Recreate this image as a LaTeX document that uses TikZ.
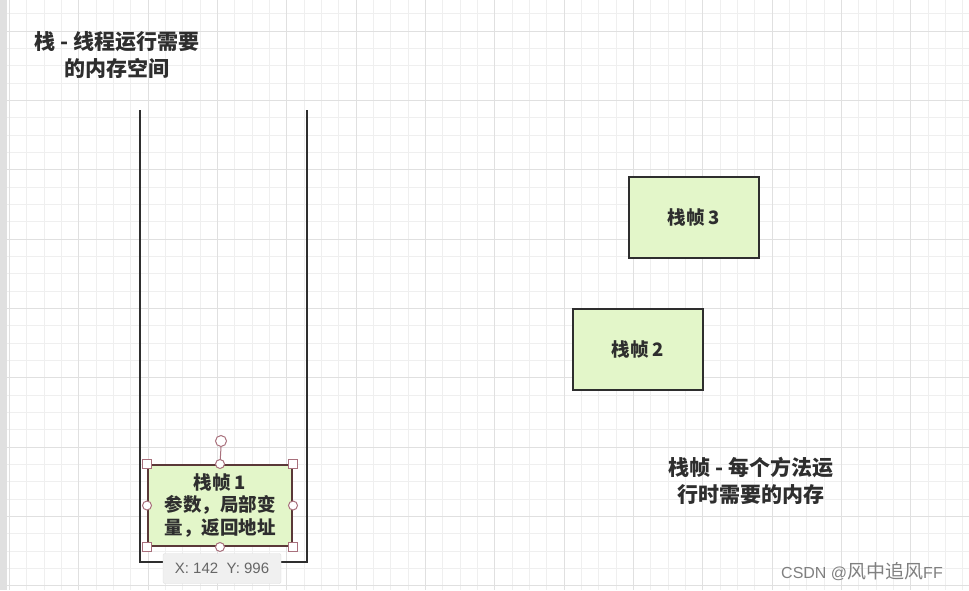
\documentclass[tikz,border=0pt]{standalone}
\usepackage{fontspec}
\newfontfamily\cjk{Noto Sans CJK SC}
\setmainfont{Noto Sans CJK SC}
\setsansfont{Liberation Sans}
\definecolor{gridminor}{HTML}{EFEFEF}
\definecolor{gridmajor}{HTML}{E0E0E0}
\definecolor{ink}{HTML}{2E2E2E}
\definecolor{framefill}{HTML}{E3F6C9}
\definecolor{selborder}{HTML}{5A3838}
\definecolor{handle}{HTML}{A8707C}
\tikzset{
  minorline/.style={gridminor, line width=1pt},
  majorline/.style={gridmajor, line width=1.5pt},
  wall/.style={ink, line width=2pt},
  framebox/.style={draw=ink, fill=framefill, line width=2pt, minimum width=130pt, minimum height=81pt, inner sep=0pt, font=\cjk\bfseries\fontsize{18.5}{22}\selectfont, text=ink},
  titletext/.style={align=center, font=\cjk\bfseries\fontsize{21}{27}\selectfont, text=ink, inner sep=0pt},
  sqhandle/.style={draw=handle, fill=white, line width=1pt, minimum size=9pt, inner sep=0pt, rectangle},
  cihandle/.style={draw=handle, fill=white, line width=1pt, minimum size=9pt, inner sep=0pt, circle},
}
\begin{document}
\begin{tikzpicture}[x=1pt, y=-1pt]
\useasboundingbox (0,0) rectangle (969,590);
\fill[white] (0,0) rectangle (969,590);
% grid
\foreach \i in {0,...,56} {\draw[minorline] ({round(9+\i*17.333)+0.5},0) -- ({round(9+\i*17.333)+0.5},590);}
\foreach \i in {0,...,34} {\draw[minorline] (0,{round(13.3+\i*17.333)+0.5}) -- (969,{round(13.3+\i*17.333)+0.5});}
\foreach \i in {0,...,14} {\draw[majorline] ({round(9+\i*69.333)+0.5},0) -- ({round(9+\i*69.333)+0.5},590);}
\foreach \i in {0,...,8} {\draw[majorline] (0,{round(30.7+\i*69.333)+0.5}) -- (969,{round(30.7+\i*69.333)+0.5});}
\fill[gridmajor] (0,0) rectangle (7,590);
% titles
\node[titletext] (stacktitle) at (117,55) {栈 - 线程运行需要\\的内存空间};
\node[titletext] (frametitle) at (751,481) {栈帧 - 每个方法运\\行时需要的内存};
% stack walls
\coordinate (wtl) at (140,110);
\coordinate (wbl) at (140,562);
\coordinate (wbr) at (307,562);
\coordinate (wtr) at (307,110);
\draw[wall, line join=miter] (wtl) -- (wbl) -- (wbr) -- (wtr);
% frames
\node[framebox] (f3) at (694,217.5) {栈帧 3};
\node[framebox] (f2) at (638,349) {栈帧 2};
\node[framebox, draw=selborder, minimum width=144pt, align=center, font=\cjk\bfseries\fontsize{18.5}{22.5}\selectfont] (f1) at (220,505.5) {栈帧 1\\参数，局部变\\量，返回地址};
% selection handles
\node[cihandle, minimum size=11pt] (rot) at (221,441) {};
\draw[handle, line width=1pt] (rot.south) -- (f1.north);
\foreach \a in {north west, north east, south west, south east} {\node[sqhandle] at (f1.\a) {};}
\foreach \a in {north, south, west, east} {\node[cihandle] at (f1.\a) {};}
% tooltip
\node[draw=gridmajor, fill=white!94!black, rounded corners=2pt, minimum width=118pt, minimum height=30pt, inner sep=0pt, font=\sffamily\fontsize{15}{18}\selectfont, text=black!60] (tip) at (222,568.5) {X: 142\ \ Y: 996};
% watermark
\node[font=\sffamily\fontsize{16}{18}\selectfont, text=black!50, inner sep=0pt, anchor=west] (wm) at (781,572) {CSDN @{\cjk\fontsize{19}{18}\selectfont 风中追风}FF};
\end{tikzpicture}
\end{document}
